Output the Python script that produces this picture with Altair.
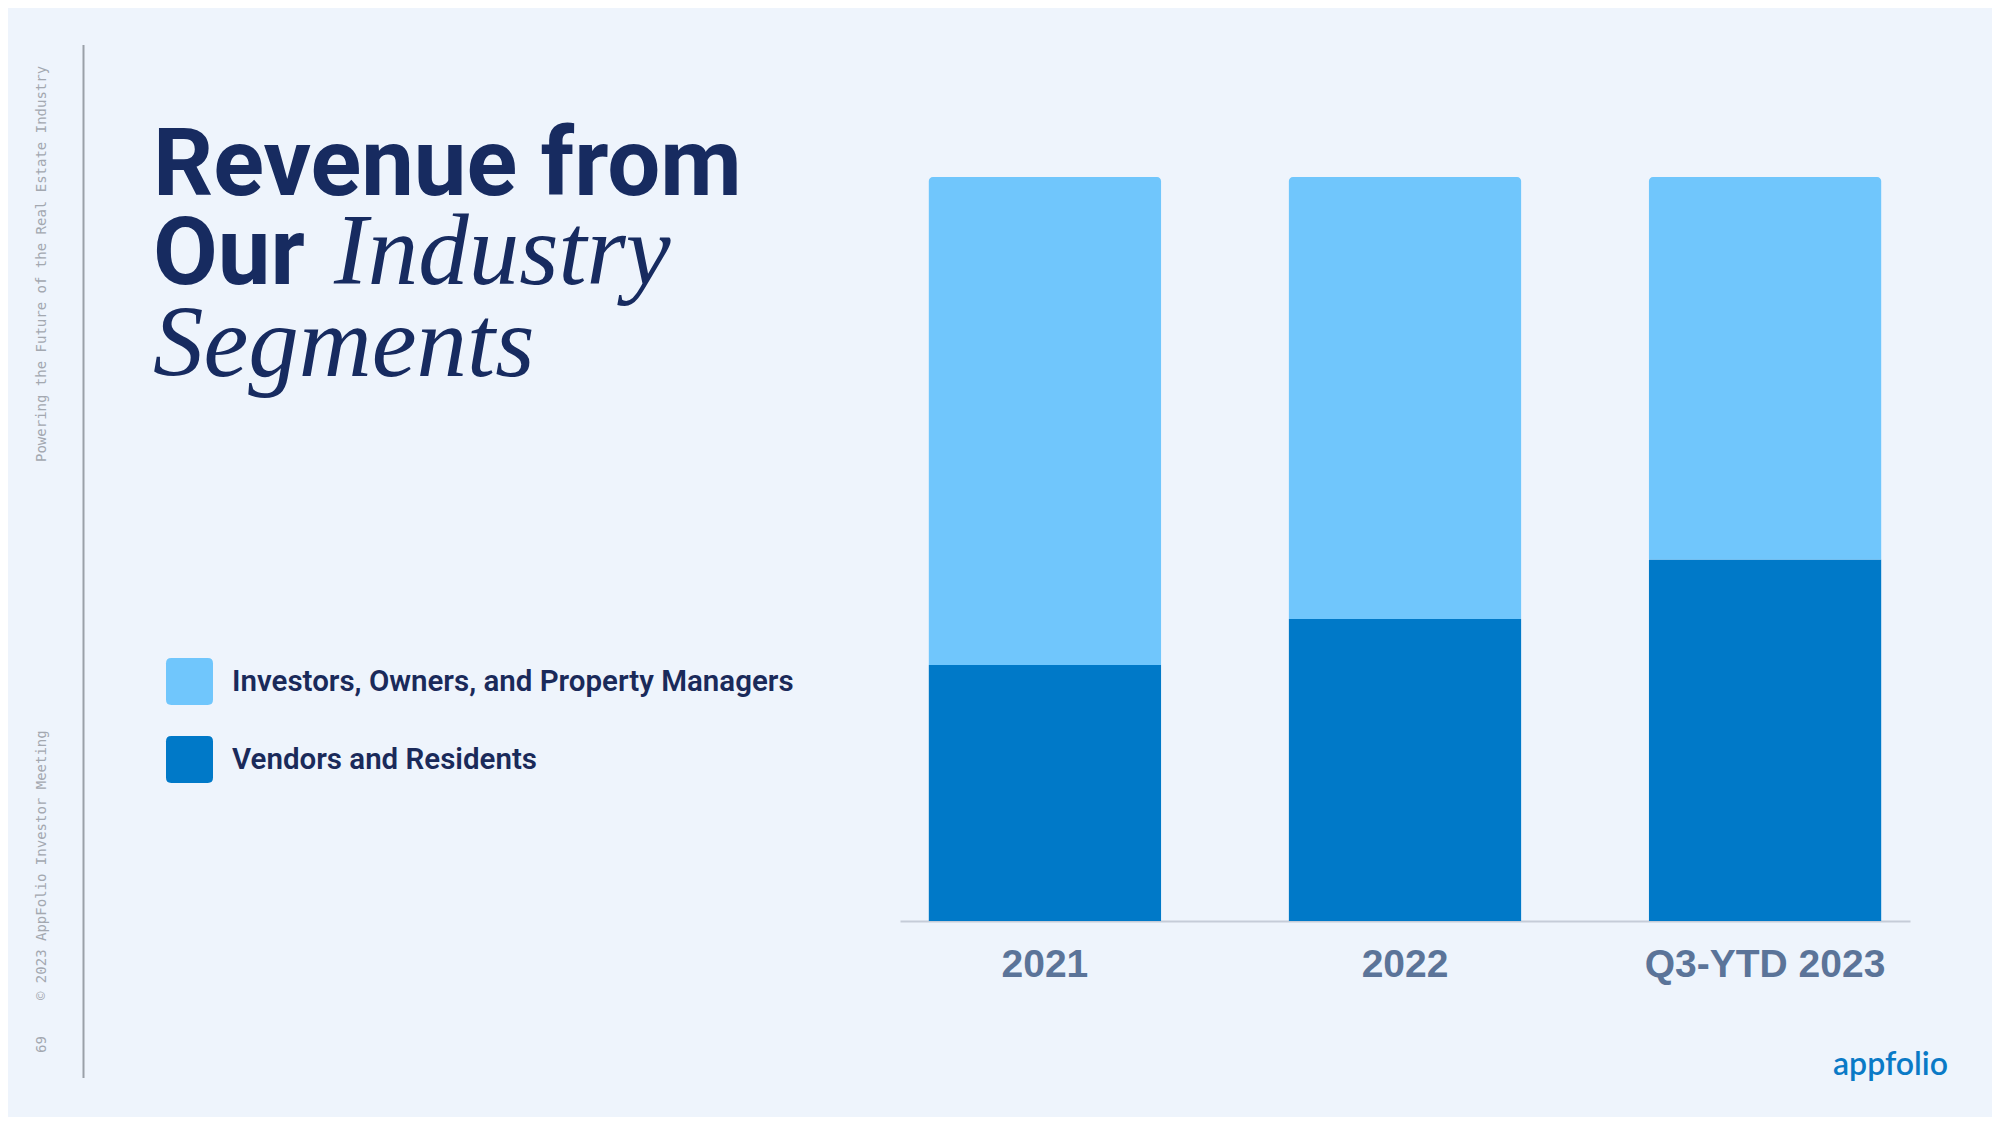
import altair as alt
import pandas as pd

# ---------------- data ----------------
years = ["2021", "2022", "Q3-YTD 2023"]
segments = ["Investors, Owners, and Property Managers", "Vendors and Residents"]
investors_share = [65.6, 59.4, 51.4]
vendors_share = [34.4, 40.6, 48.6]
segment_colors = ["#70C6FC", "#0079C8"]

title_line1 = "Revenue from"
title_line2_bold = "Our"
title_line2_italic = "Industry"
title_line3 = "Segments"
side_text_top = "Powering the Future of the Real Estate Industry"
side_text_bottom = "© 2023 AppFolio Investor Meeting"
page_number = "69"
logo_text = "appfolio"

rows = []
for i, yr in enumerate(years):
    rows.append({"year": yr, "segment": segments[1], "value": vendors_share[i], "order": 0})
    rows.append({"year": yr, "segment": segments[0], "value": investors_share[i], "order": 1})
df = pd.DataFrame(rows)

NAVY = "#172B60"
ROUNDED_SQUARE = ("M -0.78,-1 L 0.78,-1 Q 1,-1 1,-0.78 L 1,0.78 Q 1,1 0.78,1 "
                  "L -0.78,1 Q -1,1 -1,0.78 L -1,-0.78 Q -1,-1 -0.78,-1 Z")

x_enc = alt.X(
    "year:N", sort=years,
    scale=alt.Scale(paddingInner=0.355, paddingOuter=0.08),
    axis=alt.Axis(title=None, labelAngle=0, labelFont="Liberation Sans",
                  labelFontSize=39, labelFontWeight="bold", labelColor="#5B7499",
                  labelPadding=24, ticks=False, tickSize=0, grid=False, labelLimit=0,
                  domainColor="#C5CCD8", domainWidth=2, labelBaseline="top"),
)
y_enc = alt.Y("y0:Q", scale=alt.Scale(domain=[0, 100], nice=False), axis=None)
color_enc = alt.Color(
    "segment:N",
    scale=alt.Scale(domain=segments, range=segment_colors),
    legend=alt.Legend(title=None, orient="none", legendX=-734, legendY=481,
                      symbolType=ROUNDED_SQUARE, symbolSize=2209, symbolStrokeWidth=0,
                      symbolOpacity=1, labelFont="Roboto", labelFontSize=29.5,
                      labelFontWeight=600, labelColor="#1A2A5A", labelOffset=19,
                      rowPadding=31, padding=0, labelLimit=0),
)

base = alt.Chart(df).transform_stack(
    stack="value", groupby=["year"], as_=["y0", "y1"],
    sort=[alt.SortField("order", order="ascending")],
)
bars_dark = base.transform_filter(alt.datum.segment == segments[1]).mark_bar().encode(
    x=x_enc, y=y_enc, y2="y1:Q", color=color_enc)
bars_light = base.transform_filter(alt.datum.segment == segments[0]).mark_bar(
    cornerRadiusTopLeft=4, cornerRadiusTopRight=4).encode(
    x=x_enc, y=y_enc, y2="y1:Q", color=color_enc)


def text_layer(text, xr, yr, font, size, color, weight="normal", style="normal",
               angle=0, align="left", baseline="alphabetic"):
    return alt.Chart(pd.DataFrame({"t": [text]})).mark_text(
        align=align, baseline=baseline, font=font, fontSize=size,
        fontWeight=weight, fontStyle=style, color=color, angle=angle,
    ).encode(x=alt.value(xr), y=alt.value(yr), text="t:N")


t1 = text_layer(title_line1, -747, 18, "Roboto", 94, NAVY, weight="bold")
t2 = text_layer(title_line2_bold, -747, 107, "Roboto", 94, NAVY, weight="bold")
t3 = text_layer(title_line2_italic, -566, 107, "Liberation Serif", 101, NAVY, style="italic")
t4 = text_layer(title_line3, -747, 199, "Liberation Serif", 101, NAVY, style="italic")

side1 = text_layer(side_text_top, -858, 285, "DejaVu Sans Mono", 14, "#A3A8B0",
                   angle=270, baseline="middle")
side2 = text_layer(side_text_bottom, -858, 823, "DejaVu Sans Mono", 14, "#A3A8B0",
                   angle=270, baseline="middle")
side3 = text_layer(page_number, -858, 876, "DejaVu Sans Mono", 14, "#A3A8B0",
                   angle=270, baseline="middle")
logo = text_layer(logo_text, 933, 898, "Lato", 32, "#0A7AC6", weight=600)

vline = alt.Chart(pd.DataFrame({"a": [0]})).mark_rule(color="#9AA0A8", strokeWidth=2).encode(
    x=alt.value(-816.5), y=alt.value(-132), y2=alt.value(901))

chart = alt.layer(
    bars_dark, bars_light, t1, t2, t3, t4, side1, side2, side3, logo, vline
).properties(
    width=1010, height=744,
    padding={"left": 892, "top": 169, "right": 82, "bottom": 196},
    autosize=alt.AutoSizeParams(type="none"),
    background="#EEF4FC",
).configure_view(stroke=None)

chart.save("out.html", embed_options={"renderer": "svg", "actions": False})
